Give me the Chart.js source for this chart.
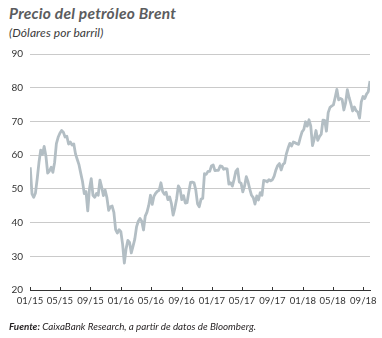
<!DOCTYPE html>
<html><head><meta charset="utf-8">
<script src="https://cdn.jsdelivr.net/npm/chart.js@4.4.1/dist/chart.umd.min.js"></script>
<style>
html,body{margin:0;padding:0;background:#fff;}
#wrap{position:relative;width:382px;height:338px;overflow:hidden;background:#fff;}
#c{position:absolute;left:0;top:0;}
.t{position:absolute;left:9px;white-space:nowrap;font-family:Lato,'Open Sans',sans-serif;font-style:italic;}
#title{top:6px;font-size:15.5px;line-height:15px;font-weight:700;color:#5b5c5e;letter-spacing:0.25px;}
#sub{top:27px;font-size:12px;line-height:12px;color:#3a3a3a;letter-spacing:0.1px;}
#foot{top:321px;font-size:9.8px;line-height:10px;color:#231f20;}
#foot b{font-weight:700;}
</style></head>
<body><div id="wrap">
<div class="t" id="title">Precio del petróleo Brent</div>
<div class="t" id="sub">(Dólares por barril)</div>
<canvas id="c" width="382" height="338"></canvas>
<div class="t" id="foot"><b>Fuente:</b> CaixaBank Research, a partir de datos de Bloomberg.</div>
</div>
<script>
// Weekly Brent prices (USD/barrel), Fridays from 2015-01-02 to 2018-09-28
const firstWeek = '2015-01-02';
const brent2015 = [56.4,48.5,47.5,48.8,53.0,57.8,61.5,60.2,62.6,59.7,54.7,55.3,56.4,54.9,57.9,63.4,65.3,66.5,67.3,66.8,65.4,65.6,63.3,63.9,63.0,63.3,60.3,58.7,57.1,54.6,52.2,48.6,49.2,43.5,50.0,53.0,48.1,47.5,48.6,48.1,52.6,50.5,48.0,49.6,47.4,43.6,44.7,44.9,43.0,37.9,36.9,37.9,37.3];
const brent2016 = [33.6,28.0,32.2,34.7,34.1,31.0,33.0,35.1,38.7,40.4,41.2,40.4,37.8,41.9,43.1,45.1,48.1,45.4,47.8,48.7,49.3,49.6,51.8,49.2,48.4,49.0,46.8,47.6,45.7,42.2,44.3,47.0,50.9,49.9,46.8,48.0,45.8,45.9,49.1,51.9,52.0,51.8,49.7,45.6,44.7,46.9,47.2,54.5,54.3,55.2,55.2,56.8];
const brent2017 = [57.1,55.4,55.5,55.5,56.8,56.7,55.8,56.0,55.9,51.4,51.8,50.8,52.8,55.2,55.9,52.0,51.7,49.1,50.8,53.6,52.1,49.9,48.1,47.4,45.5,47.9,46.7,48.9,48.1,52.5,52.4,52.1,52.7,52.4,52.7,53.8,55.6,56.9,57.5,55.6,57.2,57.7,60.4,62.1,63.5,62.7,63.9,63.7,63.4,63.2,65.2,66.9];
const brent2018 = [67.6,69.9,68.6,70.5,68.6,62.8,64.8,67.3,64.4,65.5,66.2,70.4,70.3,67.1,72.6,74.1,74.6,74.9,77.1,79.5,76.4,76.8,76.5,73.4,75.5,79.4,77.1,75.3,73.1,74.3,73.2,72.8,71.0,75.8,77.4,76.8,78.1,78.8,82.0];
const tickLabels = ['01/15','05/15','09/15','01/16','05/16','09/16','01/17','05/17','09/17','01/18','05/18','09/18'];
const tickDates = ['2015-01-01','2015-05-01','2015-09-01','2016-01-01','2016-05-01','2016-09-01','2017-01-01','2017-05-01','2017-09-01','2018-01-01','2018-05-01','2018-09-01'];
const yTicks = [20,30,40,50,60,70,80,90];

const origin = Date.parse('2015-01-01T00:00:00Z');
const dayOf = d => Math.round((Date.parse(d + 'T00:00:00Z') - origin) / 86400000);
const values = [].concat(brent2015, brent2016, brent2017, brent2018);
const firstDay = dayOf(firstWeek);
const points = values.map((v, i) => ({x: firstDay + 7 * i, y: v}));
const tickDays = tickDates.map(dayOf);
const lastDay = points[points.length - 1].x;

const upTicks = {
  id: 'upTicks',
  afterDraw(chart) {
    const xs = chart.scales.x, ctx = chart.ctx, b = chart.chartArea.bottom;
    ctx.save();
    ctx.strokeStyle = '#333';
    ctx.lineWidth = 1;
    tickDays.forEach(d => {
      const px = Math.round(xs.getPixelForValue(d)) + 0.5;
      ctx.beginPath(); ctx.moveTo(px, b); ctx.lineTo(px, b - 3); ctx.stroke();
    });
    ctx.restore();
  }
};

new Chart(document.getElementById('c'), {
  type: 'line',
  data: { datasets: [{ data: points, borderColor: '#b3bec4', borderWidth: 2.8, pointRadius: 0, tension: 0, borderJoinStyle: 'round', fill: false }] },
  options: {
    responsive: false, animation: false,
    layout: { padding: { top: 54, left: 0, right: 12, bottom: 28 } },
    plugins: { legend: { display: false }, tooltip: { enabled: false } },
    scales: {
      x: {
        type: 'linear', min: 0, max: lastDay,
        afterBuildTicks: s => { s.ticks = tickDays.map(v => ({ value: v })); },
        afterFit: s => { s.height = 20; },
        ticks: { autoSkip: false, maxRotation: 0, padding: 5, color: '#333', font: { family: 'Lato', size: 9.5 },
          callback: (v, i) => tickLabels[i] },
        grid: { drawOnChartArea: false, drawTicks: false },
        border: { display: true, color: '#333', width: 1 }
      },
      y: {
        min: 20, max: 90,
        afterBuildTicks: s => { s.ticks = yTicks.map(v => ({ value: v })); },
        afterFit: s => { s.width = 30; },
        ticks: { padding: 7, color: '#333', font: { family: 'Lato', size: 10 } },
        grid: { drawTicks: false, color: c => (c.tick && c.tick.value === 20) ? 'rgba(0,0,0,0)' : '#cacaca' },
        border: { display: false }
      }
    }
  },
  plugins: [upTicks]
});
</script>
</body></html>
